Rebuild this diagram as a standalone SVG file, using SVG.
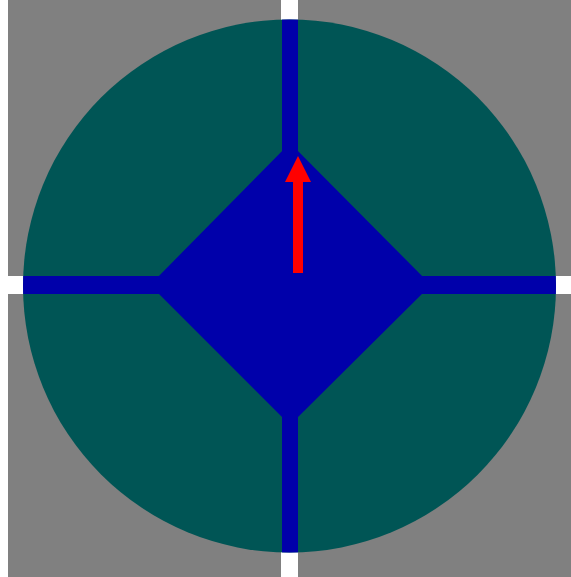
<svg xmlns="http://www.w3.org/2000/svg" width="571" height="577" viewBox="0 0 571 577">
  <style>
    .blue { fill: #0000aa; }
    .white { fill: #ffffff; }
  </style>
  <defs>
    <clipPath id="circ"><circle cx="289.5" cy="286" r="266.5"/></clipPath>
  </defs>
  <rect x="0" y="0" width="571" height="577" fill="#ffffff"/>
  <rect x="8" y="0" width="563" height="577" fill="#808080"/>
  <g id="white-cross">
    <rect class="white" x="281" y="0" width="17" height="577"/>
    <rect class="white" x="8" y="276" width="563" height="18"/>
  </g>
  <g id="disc">
    <circle cx="289.5" cy="286" r="266.5" fill="#005555"/>
  </g>
  <g id="blue-cross" clip-path="url(#circ)">
    <rect class="blue" x="282" y="0" width="16" height="577"/>
    <rect class="blue" x="0" y="276" width="571" height="18"/>
  </g>
  <g id="diamond">
    <polygon class="blue" points="290,143 431,285 290,425 150,285"/>
  </g>
  <g id="arrow">
    <rect x="293" y="180" width="10" height="93" fill="#ff0000"/>
    <polygon points="298,156 311,182 285,182" fill="#ff0000"/>
  </g>
</svg>
